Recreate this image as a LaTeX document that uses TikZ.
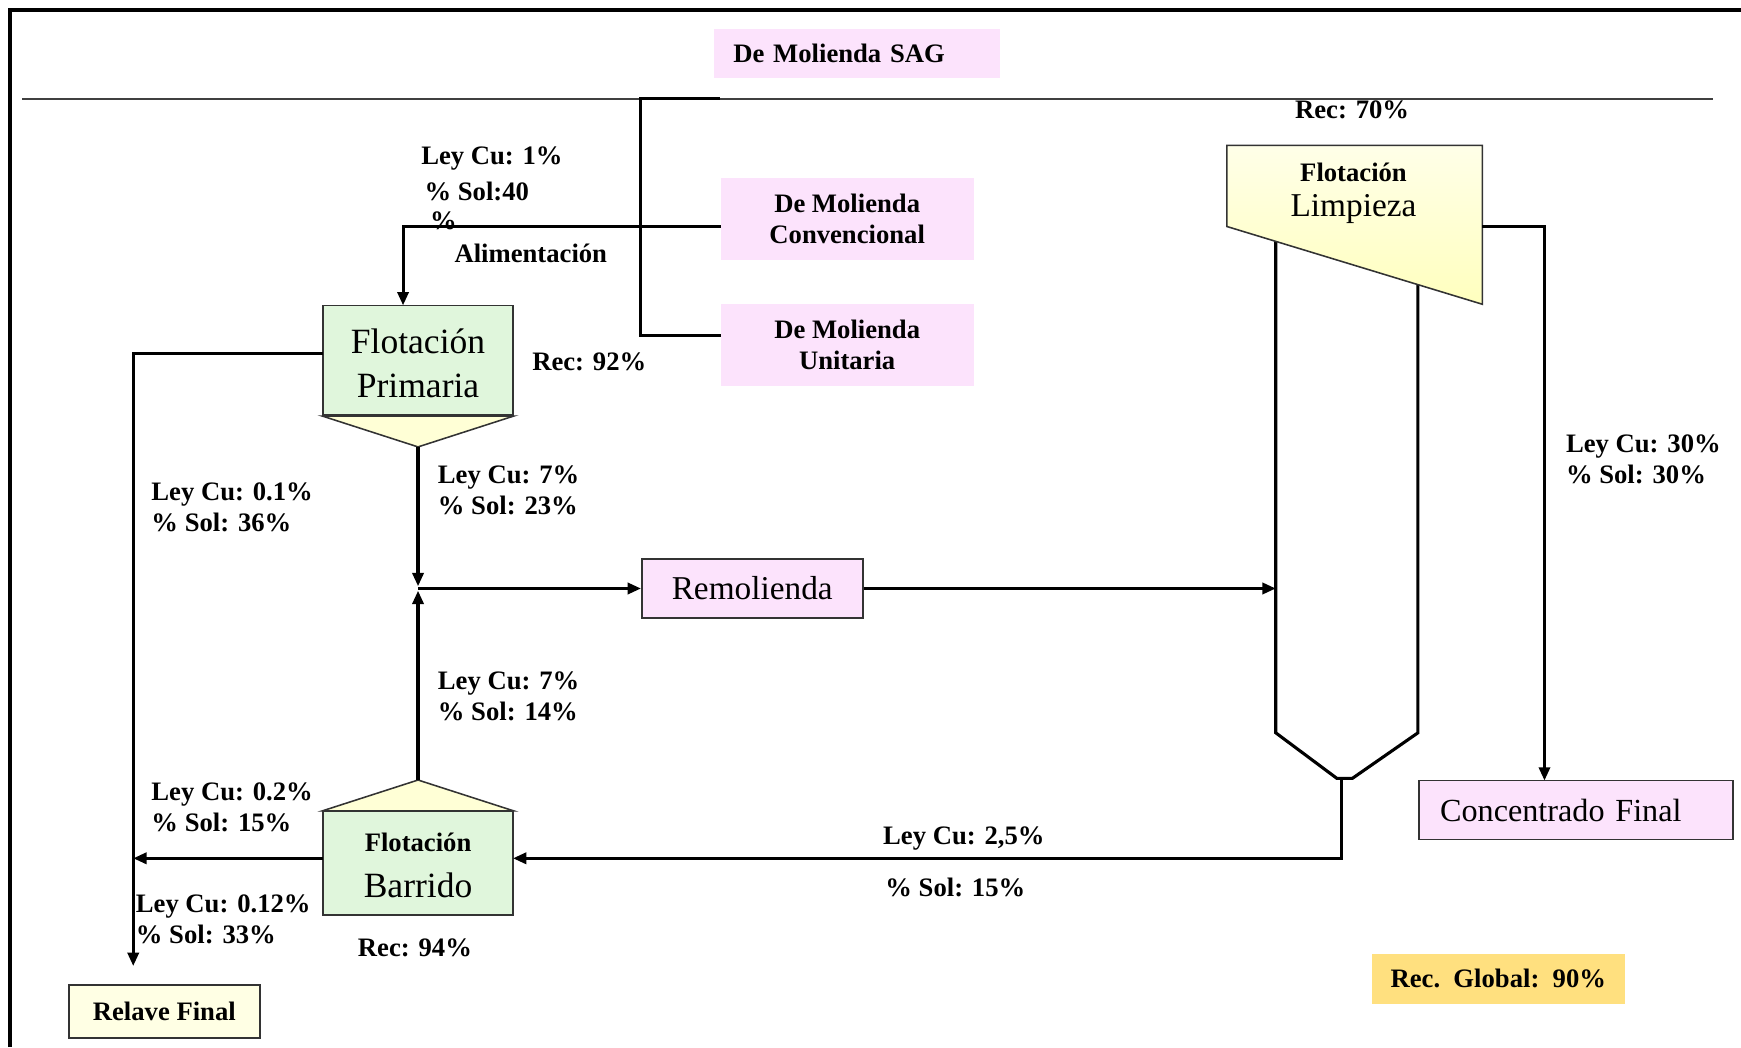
\documentclass[tikz,border=0pt]{standalone}
\usepackage{fontspec}
\setmainfont{Liberation Serif}
\usetikzlibrary{arrows.meta,calc}
\definecolor{pinkbox}{HTML}{FCE3FC}
\definecolor{greenbox}{HTML}{E0F6DC}
\definecolor{yelbox}{HTML}{FFFFD6}
\definecolor{yeltop}{HTML}{FFFFE8}
\definecolor{yelbot}{HTML}{FFFFBE}
\definecolor{relbox}{HTML}{FFFFE4}
\definecolor{goldbox}{HTML}{FFE07F}
\begin{document}
\begin{tikzpicture}[x=0.5pt,y=-0.5pt,
  lbl/.style={font=\bfseries\fontsize{12}{14}\selectfont, anchor=west, inner sep=0pt, align=left},
  big/.style={font=\fontsize{16}{19}\selectfont, inner sep=0pt},
  flow/.style={line width=1.4pt},
  arr/.style={flow, -{Triangle[length=6pt,width=5pt]}},
  feedbox/.style={fill=pinkbox, inner sep=0pt, minimum width=114pt, minimum height=37pt, align=center, font=\bfseries\fontsize{12}{14}\selectfont},
  rbox/.style={draw=black!80, line width=0.7pt, inner sep=0pt},
  hopper/.style={draw=black!80, line width=0.7pt, fill=yelbox}
]
\useasboundingbox (0,0) rectangle (1568,943);
% frame
\draw[line width=2.2pt] (9,943) -- (9,9) -- (1568,9);
% top line
\draw[line width=1pt, black!75] (20,89) -- (1543,89);

% feed boxes
\node[fill=pinkbox, inner xsep=8.5pt, inner ysep=0pt, text width=111.5pt, minimum height=22pt, align=left, anchor=west, font=\bfseries\fontsize{12}{14}\selectfont] (sag) at (643,48) {De Molienda SAG};
\node[feedbox] (conv) at (763,197) {De Molienda\\Convencional};
\node[feedbox] (uni) at (763,311) {De Molienda\\Unitaria};

% Flotacion primaria
\node[rbox, fill=greenbox, minimum width=85.5pt, minimum height=49.5pt] (prim) at (376.5,324.5) {};
\coordinate (primApex) at (376.5,402.5);
\draw[hopper] (prim.south west) -- (prim.south east) -- (primApex) -- cycle;
\node[big] (primT1) at (376.5,307) {Flotación};
\node[big] (primT2) at (376.5,348) {Primaria};

% Flotacion barrido
\node[rbox, fill=greenbox, minimum width=85.5pt, minimum height=46.5pt] (bar) at (376.5,777.5) {};
\coordinate (barApex) at (376.5,702.5);
\draw[hopper] (bar.north west) -- (bar.north east) -- (barApex) -- cycle;
\node[font=\bfseries\fontsize{12}{14}\selectfont, inner sep=0pt] (barT1) at (376.5,759) {Flotación};
\node[big] (barT2) at (376.5,797) {Barrido};

% Remolienda
\node[rbox, fill=pinkbox, minimum width=99.5pt, minimum height=26.5pt, font=\fontsize{15}{18}\selectfont] (remo) at (677.5,530) {Remolienda};

% Concentrado final
\node[rbox, fill=pinkbox, inner xsep=9.5pt, inner ysep=0pt, text width=122.5pt, minimum height=26.5pt, align=left, font=\fontsize{14.5}{17}\selectfont] (conc) at (1419.5,729.5) {Concentrado Final};

% Relave final
\node[rbox, fill=relbox, minimum width=86pt, minimum height=24pt, font=\bfseries\fontsize{12}{14}\selectfont] (rel) at (148,911) {Relave Final};

% Rec global
\node[fill=goldbox, inner xsep=8.5pt, inner ysep=0pt, text width=97pt, minimum height=22.5pt, align=left, anchor=west, font=\bfseries\fontsize{12}{14}\selectfont] (glob) at (1235,881.5) {Rec. Global: 90\%};

% Column cell
\draw[line width=1.4pt, line join=miter] (1149,215) -- (1149,660) -- (1204,701) -- (1218,701) -- (1277,660) -- (1277,250);
\coordinate (limTL) at (1105,131);
\coordinate (limTR) at (1335,131);
\coordinate (limBR) at (1335,274);
\coordinate (limBL) at (1105,204);
\draw[draw=black!80, line width=0.7pt, top color=yeltop, bottom color=yelbot] (limTL) -- (limTR) -- (limBR) -- (limBL) -- cycle;
\node[font=\bfseries\fontsize{12}{14}\selectfont, inner sep=0pt] (limT1) at (1219,155) {Flotación};
\node[font=\fontsize{15}{18}\selectfont, inner sep=0pt] (limT2) at (1219,188) {Limpieza};

% coordinates for connectors
\coordinate (trunkTop) at (577,89);
\coordinate (trunkBot) at (577,302);
\coordinate (uniIn) at (649,302);
\coordinate (sagIn) at (648,89);
\coordinate (convOut) at (649,204);
\coordinate (feedIn) at (363,275);
\coordinate (primOut) at (291,318);
\coordinate (tailBend) at (120,318);
\coordinate (relIn) at (120,870);
\coordinate (junc) at (376.5,530);
\coordinate (colIn) at (1149,530);
\coordinate (colBot) at (1208,701);
\coordinate (colBend) at (1208,773);
\coordinate (barIn) at (462,773);
\coordinate (barOut) at (291,773);
\coordinate (tailMid) at (120,773);
\coordinate (limOut) at (1335,204);
\coordinate (concIn) at (1391,703);

% connectors
\draw[flow] (sagIn) -- (trunkTop) -- (trunkBot) -- (uniIn);
\draw[arr] (convOut) -| (feedIn);
\draw[arr] (primOut) -- (tailBend) -- (relIn);
\draw[arr, shorten >=1pt] (primApex) -- (junc);
\draw[arr, shorten >=1pt] (barApex) -- (junc);
\draw[arr] (junc) -- (remo.west);
\draw[arr] (remo.east) -- (colIn);
\draw[arr] (colBot) -- (colBend) -- (barIn);
\draw[arr] (barOut) -- (tailMid);
\draw[arr] (limOut) -| (concIn);

% labels
\node[lbl] (l1) at (379,143) {Ley Cu: 1\%};
\node[lbl] (l2) at (382,172) {\% Sol:40};
\node[lbl] (l3) at (387,199) {\%};
\node[lbl] (l4) at (409,228) {Alimentación};
\node[lbl] (l5) at (479,326) {Rec: 92\%};
\node[lbl] (l6) at (136,456.5) {Ley Cu: 0.1\%\\\% Sol: 36\%};
\node[lbl] (l7) at (394,442) {Ley Cu: 7\%\\\% Sol: 23\%};
\node[lbl] (l8) at (394,627) {Ley Cu: 7\%\\\% Sol: 14\%};
\node[lbl] (l9) at (136,727.5) {Ley Cu: 0.2\%\\\% Sol: 15\%};
\node[lbl] (l10) at (122,828) {Ley Cu: 0.12\%\\\% Sol: 33\%};
\node[lbl] (l11) at (322,854) {Rec: 94\%};
\node[lbl] (l12) at (795,755) {Ley Cu: 2,5\%};
\node[lbl] (l13) at (797,799) {\% Sol: 15\%};
\node[lbl] (l14) at (1410,413.5) {Ley Cu: 30\%\\\% Sol: 30\%};
\node[lbl] (l15) at (1166,99) {Rec: 70\%};
\end{tikzpicture}
\end{document}
